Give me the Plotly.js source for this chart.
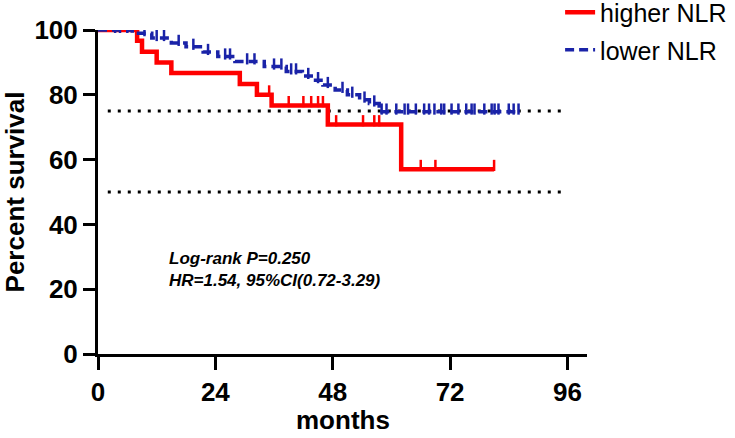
<!DOCTYPE html>
<html><head><meta charset="utf-8">
<script src="https://cdn.plot.ly/plotly-3.0.1.min.js"></script>
<style>html,body{margin:0;padding:0;background:#fff}#chart{width:735px;height:438px}</style>
</head><body><div id="chart"></div>
<script>
// Kaplan-Meier step data
const redTimes = [0, 8, 9, 12, 15, 29, 32.5, 35.5, 47, 62, 81];
const redSurv  = [100, 96.7, 93.3, 90, 86.7, 83.3, 80, 76.7, 70.8, 57, 57];
const redCensor = [35, 39, 42, 43.6, 45, 46, 48.7, 54.2, 56.5, 57.5, 66, 69, 81];

const blueTimes = [0, 7, 11, 15, 18, 21.5, 24.5, 28, 34, 38.5, 41.8, 44, 46, 48.5, 51, 53.5, 55.5, 57.5, 86];
const blueSurv  = [100, 99, 97.5, 96, 94.8, 93.2, 91.8, 90.3, 88.7, 87.2, 85.8, 84.5, 83, 81.5, 80, 78.5, 77.3, 74.8, 74.8];
const blueCensor = [3.5, 4.5, 6, 9.5, 12, 13.5, 16.5, 19.5, 22.5, 26, 27, 30.5, 32, 36, 37.5, 39.5, 40.5, 43, 45, 47, 50, 52, 54.5, 56.5, 58, 59, 61, 62.7, 63.4, 65, 66.7, 67.7, 68.8, 70.2, 70.8, 72.3, 73.7, 75.3, 76.4, 77, 79, 80.5, 81.1, 81.9, 84, 85, 86];

const seriesNames = ["higher NLR", "lower NLR"];
const refLevels = [75, 50];
const refRange = [2, 96];
const xTicks = [0, 24, 48, 72, 96];
const yTicks = [0, 20, 40, 60, 80, 100];
const annotLines = ["Log-rank P=0.250", "HR=1.54, 95%CI(0.72-3.29)"];
const xTitle = "months";
const yTitle = "Percent survival";

function stepAt(times, surv, t) {
  let v = surv[0];
  for (let i = 0; i < times.length; i++) { if (times[i] <= t) v = surv[i]; }
  return v;
}

const RED = "#ff0000", BLUE = "#1a23a8";
const traces = [];
refLevels.forEach(l => traces.push({
  x: refRange, y: [l, l], mode: "lines", showlegend: false, hoverinfo: "skip",
  line: {color: "#000", width: 3, dash: "3px,7px"}
}));
traces.push({
  x: redTimes, y: redSurv, mode: "lines", name: seriesNames[0], legendgroup: "a",
  line: {color: RED, width: 4.5, shape: "hv"}
});
traces.push({
  x: redCensor, y: redCensor.map(t => stepAt(redTimes, redSurv, t) + 1.2), mode: "markers",
  showlegend: false, legendgroup: "a",
  marker: {symbol: "line-ns-open", size: 8, color: RED, line: {color: RED, width: 2.5}}
});
traces.push({
  x: blueTimes, y: blueSurv, mode: "lines", name: seriesNames[1], legendgroup: "b",
  line: {color: BLUE, width: 3.5, shape: "hv", dash: "9px,5px"}
});
traces.push({
  x: blueCensor, y: blueCensor.map(t => stepAt(blueTimes, blueSurv, t) + 0.8), mode: "markers",
  showlegend: false, legendgroup: "b",
  marker: {symbol: "line-ns-open", size: 8, color: BLUE, line: {color: BLUE, width: 2.5}}
});

const F = "Liberation Sans, Arial, sans-serif";
const annots = annotLines.map((s, i) => ({
  x: 14.2, y: [29.6, 22.6][i], xref: "x", yref: "y", xanchor: "left", yanchor: "middle",
  text: "<b><i>" + s + "</i></b>", showarrow: false,
  font: {family: F, size: 17, color: "#000"}
}));
annots.push({
  x: 0.5, y: -0.256, xref: "paper", yref: "paper", xanchor: "center", yanchor: "bottom",
  text: "<b>" + xTitle + "</b>", showarrow: false, font: {family: F, size: 26, color: "#000"}
});
const layout = {
  width: 735, height: 438,
  margin: {l: 98, r: 148, t: 30, b: 84, autoexpand: false},
  paper_bgcolor: "#fff", plot_bgcolor: "#fff",
  showlegend: true,
  legend: {x: 0.945, y: 1.125, xanchor: "left", yanchor: "top", font: {family: F, size: 25, color: "#000"},
           tracegroupgap: 2, traceorder: "grouped", bgcolor: "rgba(0,0,0,0)"},
  xaxis: {
    range: [0, 100], tickvals: xTicks, ticktext: xTicks.map(String),
    showgrid: false, zeroline: false, showline: true, linecolor: "#000", linewidth: 3,
    ticks: "outside", ticklen: 13, tickwidth: 3, tickcolor: "#000",
    tickfont: {family: F, size: 26, color: "#000", weight: "bold"}
  },
  yaxis: {
    range: [0, 100], tickvals: yTicks, ticktext: yTicks.map(String),
    showgrid: false, zeroline: false, showline: true, linecolor: "#000", linewidth: 3,
    ticks: "outside", ticklen: 12, tickwidth: 3, tickcolor: "#000",
    tickfont: {family: F, size: 26, color: "#000", weight: "bold"},
    title: {text: "<b>" + yTitle + "</b>", font: {family: F, size: 26, color: "#000"}, standoff: 8}
  },
  annotations: annots
};
Plotly.newPlot("chart", traces, layout, {displayModeBar: false, staticPlot: true}).then(() => {
  document.querySelectorAll(".scatterlayer .trace").forEach(t => t.style.clipPath = "none");
});
</script>
</body></html>
